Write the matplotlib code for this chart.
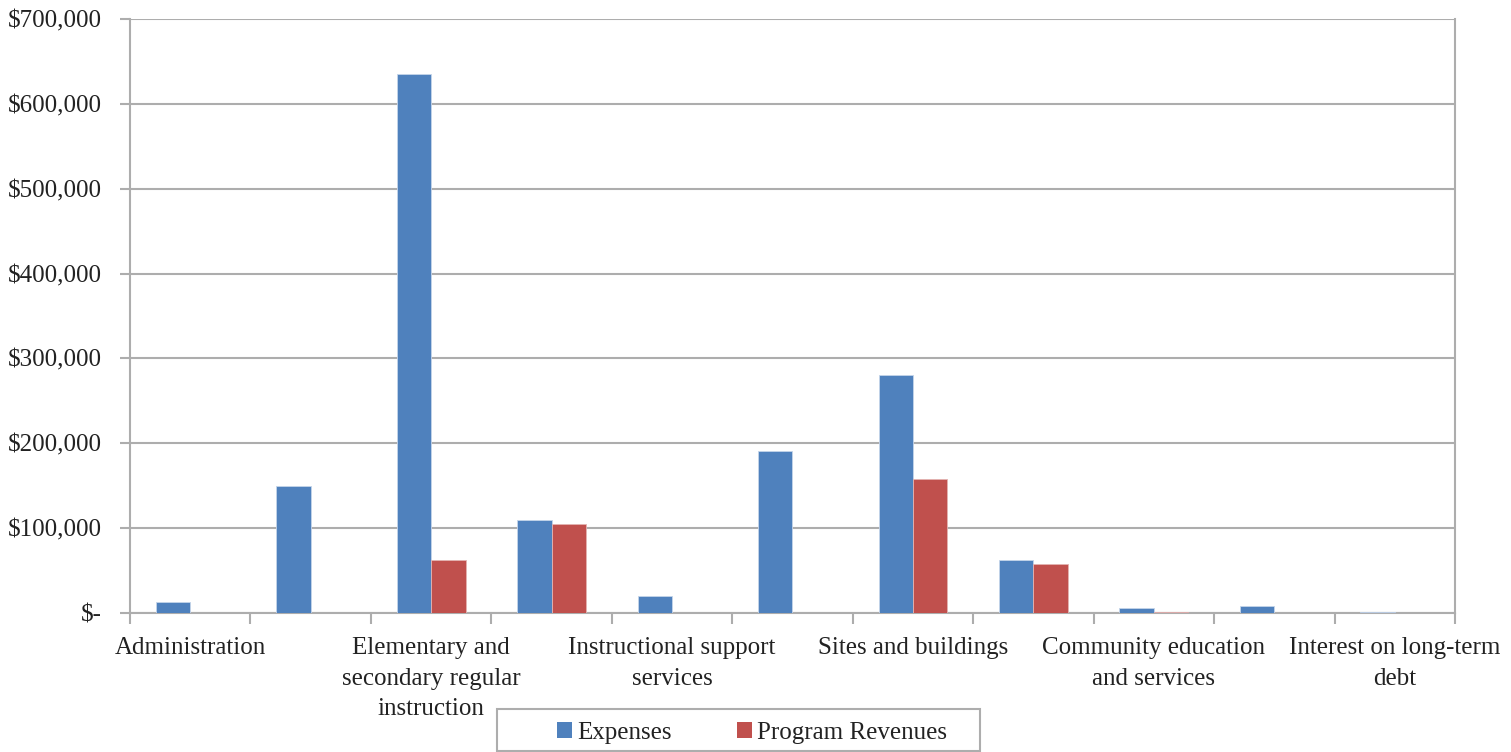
import matplotlib
matplotlib.use("Agg")
import matplotlib.pyplot as plt
import numpy as np
from matplotlib.ticker import FuncFormatter
from matplotlib.patches import Patch, Rectangle

categories = [
    "Administration",
    "District support services",
    "Elementary and\nsecondary regular\ninstruction",
    "Special education instruction",
    "Instructional support\nservices",
    "Pupil support services",
    "Sites and buildings",
    "Food service",
    "Community education\nand services",
    "Fiscal and other fixed cost programs",
    "Interest on long-term\ndebt",
]
expenses = [13000, 150000, 635000, 110000, 20000, 191000, 281000, 62000, 6000, 8500, 1500]
revenues = [0, 0, 62500, 105000, 0, 0, 158500, 58000, 1000, 0, 0]
yticks = [0, 100000, 200000, 300000, 400000, 500000, 600000, 700000]

blue = "#4F81BD"
red = "#C0504D"
grid = "#ADADAD"

plt.rcParams["font.family"] = ["Liberation Serif", "DejaVu Serif"]
fs = 18

fig = plt.figure(figsize=(15.11, 7.52), dpi=100)
ax = fig.add_axes([130/1511, 1-613/752, (1455-130)/1511, (613-19)/752])

x = np.arange(len(categories))
w = 1/3.5
ax.bar(x - w/2, expenses, width=w, color=blue, edgecolor="#c5d5ea", linewidth=0.6, zorder=3)
ax.bar(x + w/2, revenues, width=w, color=red, edgecolor="#e3b3b2", linewidth=0.6, zorder=3)

ax.set_xlim(-0.5, len(categories) - 0.5)
ax.set_ylim(0, 700000)
ax.set_yticks(yticks)
ax.yaxis.set_major_formatter(FuncFormatter(lambda v, p: "$-" if v == 0 else f"${v:,.0f}"))
ax.grid(axis="y", color=grid, linewidth=1.5, zorder=0)

# x ticks at boundaries, labels on every other category
ax.set_xticks(np.arange(-0.5, len(categories)), minor=False)
ax.set_xticklabels([])
ax.set_xticks(x[::2], minor=True)
ax.set_xticklabels([categories[i] for i in x[::2]], minor=True, fontsize=fs,
                   linespacing=1.5, color="#222222")
ax.tick_params(axis="x", which="minor", length=0, pad=17.5)
ax.tick_params(axis="x", which="major", length=8, width=1.5, color=grid, direction="out")
ax.tick_params(axis="y", length=7, width=1.5, color=grid, labelsize=fs, pad=13,
               labelcolor="#222222")

ax.spines["top"].set_visible(False)
for s in ["left", "right", "bottom"]:
    ax.spines[s].set_color(grid)
    ax.spines[s].set_linewidth(1.5)

handles = [Patch(facecolor=blue, label="Expenses"), Patch(facecolor=red, label="Program Revenues")]
leg = fig.legend(handles=handles, loc="center",
                 bbox_to_anchor=((556 + 948) / 2 / 1511, 1 - 733 / 752),
                 ncol=2, fontsize=fs, frameon=False,
                 handlelength=0.6, handleheight=0.6, handletextpad=0.2,
                 columnspacing=2.6, borderaxespad=0, borderpad=0)
for t in leg.get_texts():
    t.set_color("#222222")
fig.patches.append(Rectangle((497/1511, 1-751/752), (980-497)/1511, 42/752,
                             transform=fig.transFigure, fill=False,
                             edgecolor=grid, linewidth=1.5))

fig.savefig("out.png", dpi=100)
